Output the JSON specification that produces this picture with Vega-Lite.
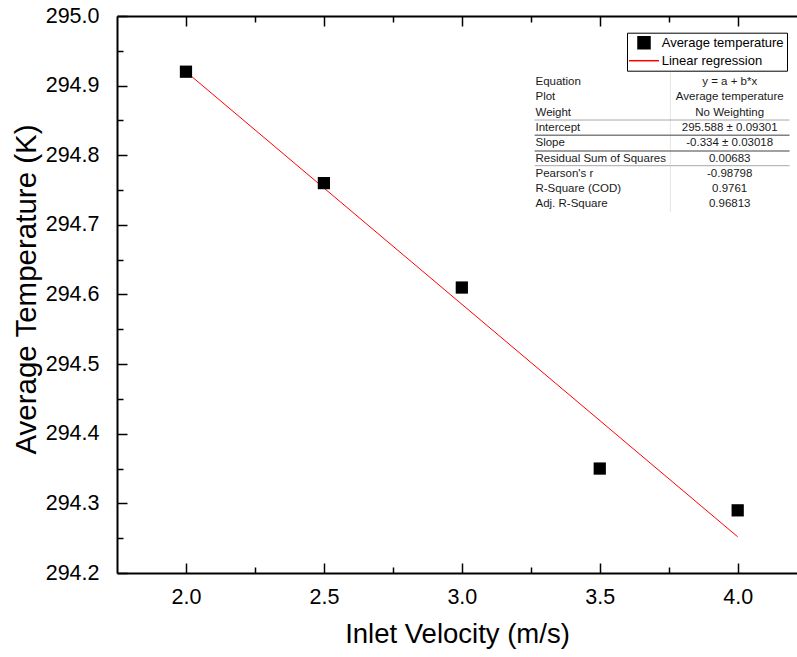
{
  "$schema": "https://vega.github.io/schema/vega-lite/v6.json",
  "width": 680,
  "height": 557,
  "autosize": {"type": "none"},
  "padding": {"left": 117, "top": 16, "right": 0, "bottom": 84},
  "background": "white",
  "config": {"view": {"stroke": null}, "font": "Liberation Sans", "legend": {"strokeWidth": 1}},
  "data": {"values": [
    {"velocity": 2.0, "temperature": 294.92},
    {"velocity": 2.5, "temperature": 294.76},
    {"velocity": 3.0, "temperature": 294.61},
    {"velocity": 3.5, "temperature": 294.35},
    {"velocity": 4.0, "temperature": 294.29}
  ]},
  "resolve": {"axis": {"x": "independent", "y": "independent"}},
  "layer": [
    {
      "mark": {"type": "point", "opacity": 0},
      "encoding": {
        "x": {"field": "velocity", "type": "quantitative",
          "scale": {"domain": [1.75, 4.215], "nice": false, "zero": false},
          "axis": {"orient": "top", "labels": false, "title": null, "grid": false,
            "values": [2, 2.25, 2.5, 2.75, 3, 3.25, 3.5, 3.75, 4],
            "tickSize": {"condition": {"test": "round(datum.value*100) % 50 === 0", "value": -10}, "value": -6},
            "tickWidth": 1.5, "tickColor": "black", "domainColor": "black", "domainWidth": 2}},
        "y": {"field": "temperature", "type": "quantitative",
          "scale": {"domain": [294.2, 295.0], "nice": false, "zero": false}, "axis": null}
      }
    },
    {
      "data": {"values": [{}]},
      "mark": {"type": "rule", "color": "#e6e6e6", "strokeWidth": 1},
      "encoding": {"x": {"datum": 3.756, "axis": null}, "y": {"datum": 294.9196, "axis": null}, "y2": {"datum": 294.7185}}
    },
    {
      "data": {"values": [{}]},
      "mark": {"type": "rule", "color": "#a8a8a8", "strokeWidth": 1},
      "encoding": {"x": {"datum": 3.264, "axis": null}, "x2": {"datum": 4.188}, "y": {"datum": 294.8506, "axis": null}}
    },
    {
      "data": {"values": [{}]},
      "mark": {"type": "rule", "color": "#808080", "strokeWidth": 1.6},
      "encoding": {"x": {"datum": 3.264, "axis": null}, "x2": {"datum": 4.188}, "y": {"datum": 294.8287, "axis": null}}
    },
    {
      "data": {"values": [{}]},
      "mark": {"type": "rule", "color": "#808080", "strokeWidth": 1.6},
      "encoding": {"x": {"datum": 3.264, "axis": null}, "x2": {"datum": 4.188}, "y": {"datum": 294.8061, "axis": null}}
    },
    {
      "data": {"values": [{}]},
      "mark": {"type": "rule", "color": "#a8a8a8", "strokeWidth": 1},
      "encoding": {"x": {"datum": 3.264, "axis": null}, "x2": {"datum": 4.188}, "y": {"datum": 294.785, "axis": null}}
    },
    {
      "data": {"values": [{
        "statistic": ["Equation", "Plot", "Weight", "Intercept", "Slope", "Residual Sum of Squares", "Pearson's r", "R-Square (COD)", "Adj. R-Square"],
        "result": ["y = a + b*x", "Average temperature", "No Weighting", "295.588 ± 0.09301", "-0.334 ± 0.03018", "0.00683", "-0.98798", "0.9761", "0.96813"]
      }]},
      "layer": [
        {
          "mark": {"type": "text", "align": "left", "baseline": "top", "fontSize": 11.5, "lineHeight": 15.3, "color": "#1a1a1a"},
          "encoding": {"x": {"datum": 3.267, "axis": null}, "y": {"datum": 294.9138, "axis": null}, "text": {"field": "statistic", "type": "nominal"}}
        },
        {
          "mark": {"type": "text", "align": "center", "baseline": "top", "fontSize": 11.5, "lineHeight": 15.3, "color": "#1a1a1a"},
          "encoding": {"x": {"datum": 3.971, "axis": null}, "y": {"datum": 294.9138, "axis": null}, "text": {"field": "result", "type": "nominal"}}
        }
      ]
    },
    {
      "transform": [{"regression": "temperature", "on": "velocity", "extent": [2, 4]}],
      "mark": {"type": "line", "strokeWidth": 1},
      "encoding": {
        "x": {"field": "velocity", "type": "quantitative", "axis": null},
        "y": {"field": "temperature", "type": "quantitative", "axis": null},
        "color": {"datum": "Linear regression"}
      }
    },
    {
      "mark": {"type": "point", "filled": true, "size": 150, "opacity": 1},
      "encoding": {
        "x": {"field": "velocity", "type": "quantitative",
          "axis": {"orient": "bottom", "title": "Inlet Velocity (m/s)", "grid": false,
            "values": [2, 2.25, 2.5, 2.75, 3, 3.25, 3.5, 3.75, 4],
            "format": ".1f",
            "labelExpr": "round(datum.value*100) % 50 ? '' : datum.label",
            "tickSize": {"condition": {"test": "round(datum.value*100) % 50 === 0", "value": -10}, "value": -6},
            "tickWidth": 1.5, "tickColor": "black", "domainColor": "black", "domainWidth": 2,
            "labelFont": "Liberation Sans", "labelFontSize": 21.5, "labelColor": "black",
            "labelPadding": 23, "labelFlush": false, "labelOverlap": false,
            "titleFont": "Liberation Sans", "titleFontSize": 27.5, "titleFontWeight": "normal", "titleColor": "black", "titlePadding": 8.5}},
        "y": {"field": "temperature", "type": "quantitative",
          "axis": {"orient": "left", "title": "Average Temperature (K)", "grid": false,
            "values": [294.2, 294.25, 294.3, 294.35, 294.4, 294.45, 294.5, 294.55, 294.6, 294.65, 294.7, 294.75, 294.8, 294.85, 294.9, 294.95, 295.0],
            "format": ".1f",
            "labelExpr": "round(datum.value*100) % 10 ? '' : datum.label",
            "tickSize": {"condition": {"test": "round(datum.value*100) % 10 === 0", "value": -10}, "value": -6},
            "tickWidth": 1.5, "tickColor": "black", "domainColor": "black", "domainWidth": 2,
            "labelFont": "Liberation Sans", "labelFontSize": 21.5, "labelColor": "black",
            "labelPadding": 28, "labelFlush": false, "labelOverlap": false,
            "titleFont": "Liberation Sans", "titleFontSize": 29.5, "titleFontWeight": "normal", "titleColor": "black", "titlePadding": 4, "titleY": 273}},
        "color": {"datum": "Average temperature",
          "scale": {"domain": ["Average temperature", "Linear regression"], "range": ["black", "red"]},
          "legend": {"orient": "none", "legendX": 510, "legendY": 16.7, "title": null,
            "strokeColor": "black", "fillColor": "white", "padding": 3,
            "labelFont": "Liberation Sans", "labelFontSize": 13, "labelColor": "black",
            "symbolSize": 144, "symbolOffset": 7, "labelOffset": 10.7, "rowPadding": 2,
            "encode": {"symbols": {"strokeWidth": {"value": 1}, "opacity": {"value": 1}}}}},
        "shape": {"datum": "Average temperature",
          "scale": {"domain": ["Average temperature", "Linear regression"], "range": ["square", "M-2.5,0H2.5"]}}
      }
    }
  ]
}
